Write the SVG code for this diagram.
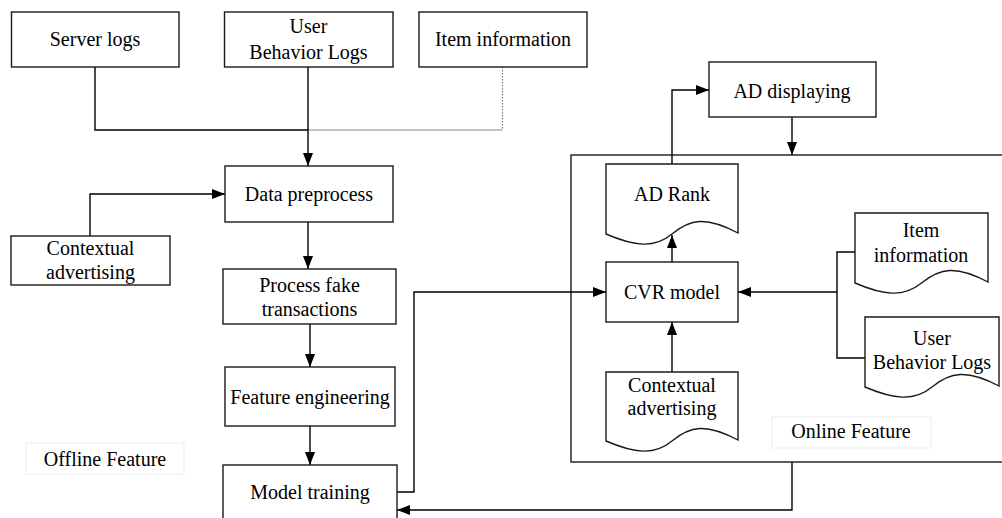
<svg xmlns="http://www.w3.org/2000/svg" width="1002" height="518" viewBox="0 0 1002 518">
  <defs>
    <marker id="arrow" markerUnits="userSpaceOnUse" markerWidth="13" markerHeight="10" refX="13" refY="5" orient="auto">
      <path d="M0,0 L13,5 L0,10 Z" fill="#000"/>
    </marker>
    <style>
      .box { fill: #fff; stroke: #1a1a1a; stroke-width: 1.4; }
      .doc { fill: #fff; stroke: #1a1a1a; stroke-width: 1.4; }
      .frame { fill: none; stroke: #1a1a1a; stroke-width: 1.4; }
      .tag { fill: #fff; stroke: #e6edf4; stroke-width: 1; }
      text { font-family: 'Liberation Serif', 'DejaVu Serif', serif; font-size: 20px; fill: #000; text-anchor: middle; }
      .wire { fill: none; stroke: #000; stroke-width: 1.4; }
      .arr { marker-end: url(#arrow); }
      .faint { fill: none; stroke: #b0b0b0; stroke-width: 1.4; }
      .dots { fill: none; stroke: #777; stroke-width: 1.2; stroke-dasharray: 1.5 1.5; }
    </style>
  </defs>

  <g font-family="Liberation Serif, DejaVu Serif, serif" font-size="20" text-anchor="middle">

  <!-- online feature container (open on the right) -->
  <g id="online-area">
    <rect class="frame" x="571" y="155" width="450" height="307"/>
    <rect class="tag" x="772" y="417" width="159" height="31"/>
    <text x="851" y="438">Online Feature</text>
  </g>

  <g id="offline-label">
    <rect class="tag" x="26" y="443" width="158" height="31"/>
    <text x="105" y="466">Offline Feature</text>
  </g>

  <!-- connectors -->
  <g id="connectors">
    <path class="wire" d="M95,67 V130 H308"/>
    <path class="faint" d="M308,130 H502.5"/>
    <path class="dots" d="M502.5,67 V130"/>
    <path class="wire arr" d="M308,67 V166"/>
    <path class="wire arr" d="M90,236 V194 H225"/>
    <path class="wire arr" d="M308,222 V269"/>
    <path class="wire arr" d="M310,324 V367"/>
    <path class="wire arr" d="M310,426 V465"/>
    <path class="wire arr" d="M397,492 H414 V292 H606"/>
    <path class="wire arr" d="M792,462 V510 H397"/>
    <path class="wire arr" d="M672,164 V90 H709"/>
    <path class="wire arr" d="M792,117 V155"/>
    <path class="wire arr" d="M672,262 V235"/>
    <path class="wire arr" d="M672,372 V322"/>
    <path class="wire" d="M855,252 H837 V358 H865"/>
    <path class="wire arr" d="M837,292 H738"/>
  </g>

  <!-- offline pipeline -->
  <g id="server-logs">
    <rect class="box" x="11.5" y="12" width="167.5" height="55"/>
    <text x="95" y="46">Server logs</text>
  </g>
  <g id="user-behavior-logs">
    <rect class="box" x="224.5" y="12" width="168.5" height="55"/>
    <text x="308.5" y="33">User</text>
    <text x="308.5" y="59">Behavior Logs</text>
  </g>
  <g id="item-information">
    <rect class="box" x="419" y="12" width="168" height="55"/>
    <text x="503" y="46">Item information</text>
  </g>
  <g id="data-preprocess">
    <rect class="box" x="225" y="166" width="168" height="56"/>
    <text x="309" y="201">Data preprocess</text>
  </g>
  <g id="contextual-advertising">
    <rect class="box" x="11" y="236" width="159" height="49"/>
    <text x="90.5" y="255">Contextual</text>
    <text x="90.5" y="279">advertising</text>
  </g>
  <g id="process-fake">
    <rect class="box" x="223" y="269" width="173" height="55"/>
    <text x="309.5" y="292">Process fake</text>
    <text x="309.5" y="316">transactions</text>
  </g>
  <g id="feature-engineering">
    <rect class="box" x="225" y="367" width="170" height="59"/>
    <text x="310" y="404">Feature engineering</text>
  </g>
  <g id="model-training">
    <rect class="box" x="223" y="465" width="174" height="60"/>
    <text x="310" y="499">Model training</text>
  </g>

  <!-- online serving -->
  <g id="ad-displaying">
    <rect class="box" x="709" y="62" width="167" height="55"/>
    <text x="792" y="98">AD displaying</text>
  </g>
  <g id="ad-rank">
    <path class="doc" d="M606,164 H738 V233 C706,216 690,219 672,234 C654,249 634,246 606,234 Z"/>
    <text x="672" y="201">AD Rank</text>
  </g>
  <g id="cvr-model">
    <rect class="box" x="606" y="262" width="132" height="60"/>
    <text x="672" y="299">CVR model</text>
  </g>
  <g id="online-contextual">
    <path class="doc" d="M606,372 H738 V440 C706,423 690,426 672,441 C654,456 634,453 606,441 Z"/>
    <text x="672" y="392">Contextual</text>
    <text x="672" y="415">advertising</text>
  </g>
  <g id="online-item-information">
    <path class="doc" d="M855,213 H988 V282 C956,265 940,268 921.5,283 C903,298 883,295 855,283 Z"/>
    <text x="921" y="237">Item</text>
    <text x="921" y="262">information</text>
  </g>
  <g id="online-user-behavior">
    <path class="doc" d="M865,317 H999 V386 C967,369 950,372 932,387 C914,402 893,399 865,387 Z"/>
    <text x="932" y="345">User</text>
    <text x="932" y="369">Behavior Logs</text>
  </g>

  </g>
</svg>
